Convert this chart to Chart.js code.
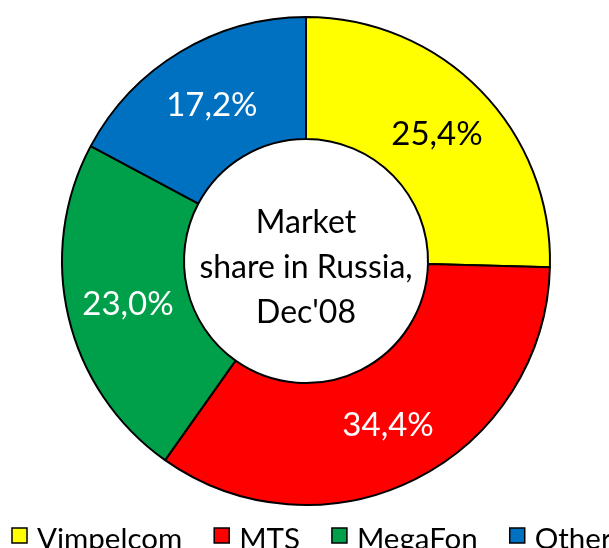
<!DOCTYPE html>
<html>
<head>
<meta charset="utf-8">
<script src="https://cdn.jsdelivr.net/npm/chart.js@4.4.1/dist/chart.umd.min.js"></script>
<style>
  html, body { margin: 0; padding: 0; background: #ffffff; overflow: hidden; }
  #wrap { position: relative; width: 609px; height: 548px; }
</style>
</head>
<body>
<div id="wrap"><canvas id="c" width="609" height="548"></canvas></div>
<script>
// ---- data ----
const categories = ['Vimpelcom', 'MTS', 'MegaFon', 'Other'];
const shares = [25.4, 34.4, 23.0, 17.2];
const sliceColors = ['#FFFF00', '#FF0000', '#00A04B', '#0070C0'];
const labelColors = ['#000000', '#FFFFFF', '#FFFFFF', '#FFFFFF'];
const centerLines = ['Market', 'share in Russia,', "Dec'08"];

const FONT = 'Lato, "Open Sans", sans-serif';

const fmt = v => v.toFixed(1).replace('.', ',') + '%';

const sliceLabels = {
  id: 'sliceLabels',
  afterDatasetsDraw(chart) {
    const ctx = chart.ctx;
    const meta = chart.getDatasetMeta(0);
    ctx.save();
    ctx.font = '33px ' + FONT;
    ctx.textAlign = 'center';
    ctx.textBaseline = 'middle';
    meta.data.forEach((arc, i) => {
      const p = arc.tooltipPosition();
      ctx.fillStyle = labelColors[i];
      ctx.fillText(fmt(shares[i]), p.x, p.y + 1);
    });
    ctx.restore();
  }
};

const centerText = {
  id: 'centerText',
  afterDatasetsDraw(chart) {
    const ctx = chart.ctx;
    const arc = chart.getDatasetMeta(0).data[0];
    const cx = arc.x, cy = arc.y;
    ctx.save();
    ctx.font = '32px ' + FONT;
    ctx.fillStyle = '#000000';
    ctx.textAlign = 'center';
    ctx.textBaseline = 'alphabetic';
    const offs = [-28, 17, 62];
    centerLines.forEach((t, i) => ctx.fillText(t, cx, cy + offs[i]));
    ctx.restore();
  }
};

const bottomLegend = {
  id: 'bottomLegend',
  afterDraw(chart) {
    const ctx = chart.ctx;
    ctx.save();
    ctx.font = '29.5px ' + FONT;
    const box = 15, gap = 10, pad = 32;
    const widths = categories.map(c => box + gap + ctx.measureText(c).width);
    let x = 12;
    const boxTop = 528, baseline = 549;
    categories.forEach((c, i) => {
      ctx.fillStyle = sliceColors[i];
      ctx.fillRect(x, boxTop, box, box);
      ctx.strokeStyle = '#000000';
      ctx.lineWidth = 1.5;
      ctx.strokeRect(x, boxTop, box, box);
      ctx.fillStyle = '#000000';
      ctx.textAlign = 'left';
      ctx.textBaseline = 'alphabetic';
      ctx.fillText(c, x + box + gap, baseline);
      x += widths[i] + pad;
    });
    ctx.restore();
  }
};

new Chart(document.getElementById('c'), {
  type: 'doughnut',
  data: {
    labels: categories,
    datasets: [{
      data: shares,
      backgroundColor: sliceColors,
      borderColor: '#000000',
      borderWidth: 2
    }]
  },
  options: {
    responsive: false,
    animation: false,
    cutout: '50%',
    layout: { padding: { top: 16, bottom: 42, left: 3, right: 0 } },
    plugins: {
      legend: { display: false },
      tooltip: { enabled: false }
    }
  },
  plugins: [sliceLabels, centerText, bottomLegend]
});
</script>
</body>
</html>
